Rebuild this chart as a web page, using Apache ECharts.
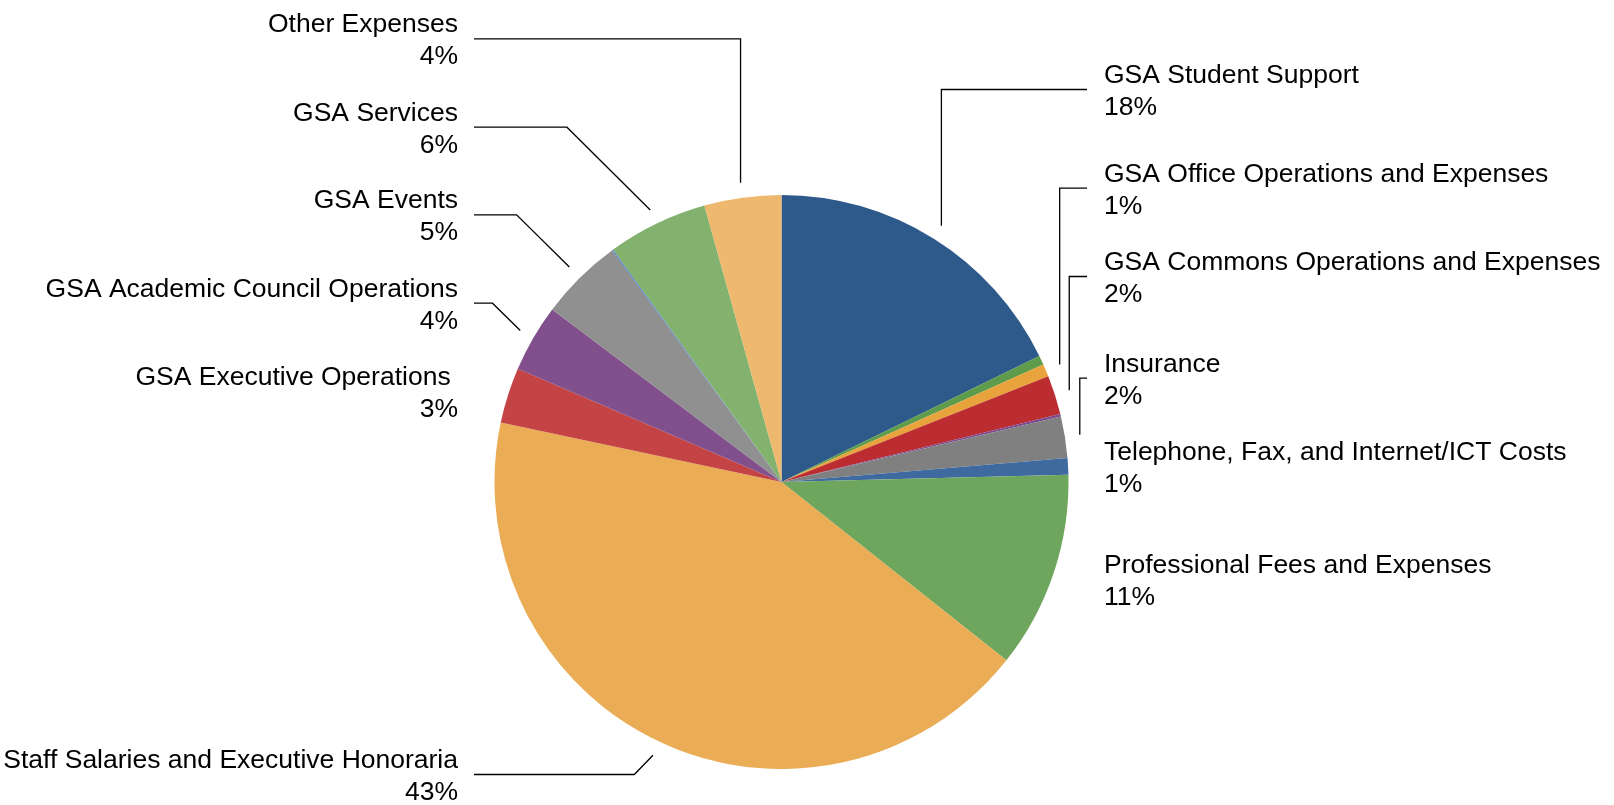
<!DOCTYPE html>
<html><head><meta charset="utf-8">
<script src="https://cdn.jsdelivr.net/npm/echarts@6/dist/echarts.min.js"></script>
<style>html,body{margin:0;padding:0;background:#fff}#c{width:1614px;height:805px}</style>
</head><body><div id="c"></div>
<script>
// ---- data (clockwise from 12 o'clock); '' = unlabeled sliver ----
const categories = [
  'GSA Student Support', '', 'GSA Office Operations and Expenses',
  'GSA Commons Operations and Expenses', '', 'Insurance',
  'Telephone, Fax, and Internet/ICT Costs', 'Professional Fees and Expenses',
  'Staff Salaries and Executive Honoraria', 'GSA Executive Operations ',
  'GSA Academic Council Operations', 'GSA Events', '', 'GSA Services', 'Other Expenses'
];
const values = [17.76, 0.52, 0.71, 2.20, 0.14, 2.34, 0.93, 11.07, 42.65, 3.14, 3.81, 4.67, 0.08, 5.65, 4.33];
const colors = ['#2E5A8B', '#5E9B4A', '#E8A33D', '#BB2D30', '#7B4A8F', '#808080', '#3E6A9F',
  '#6FA65D', '#EAAC55', '#C44446', '#804F8C', '#8F908F', '#5B84C4', '#82B26E', '#EEB96E'];

// ---- label layout config (not data) ----
const labelRowY = [89, null, 187.7, 276, null, 377.7, 466, 579, 774, 391, 302.7, 214.3, null, 126.7, 38.3];
const leaderStyle = ['vert', null, 'vert', 'vert', null, 'vert', 'none', 'none', 'diag', 'none', 'diag', 'diag', null, 'diag', 'vert'];

const CX = 781.5, CY = 482, R = 287, LEAD_R = 302, TEXT_DY = 2.5;
const RIGHT_TEXT_X = 1104, RIGHT_LINE_X = 1087, LEFT_TEXT_X = 458, LEFT_LINE_X = 474;

const total = values.reduce((a, b) => a + b, 0);
const midAngles = [];
let acc = 0;
values.forEach(v => { midAngles.push((acc + v / 2) / total * 2 * Math.PI); acc += v; });

const data = categories.map((name, i) => ({
  name: name,
  value: values[i],
  itemStyle: { color: colors[i] },
  label: { show: name !== '' },
  labelLine: { show: name !== '' && leaderStyle[i] !== 'none' }
}));

const chart = echarts.init(document.getElementById('c'), null, { renderer: 'canvas' });
chart.setOption({
  animation: false,
  backgroundColor: '#fff',
  series: [{
    type: 'pie',
    center: [CX, CY],
    radius: R,
    startAngle: 90,
    clockwise: true,
    avoidLabelOverlap: false,
    emphasis: { disabled: true },
    itemStyle: { borderWidth: 0 },
    label: {
      position: 'outer',
      alignTo: 'none',
      formatter: p => p.name + '\n' + Math.round(p.percent) + '%',
      fontFamily: "'Liberation Sans', Helvetica, Arial, sans-serif",
      fontSize: 26.5,
      lineHeight: 32,
      color: '#000'
    },
    labelLine: { show: true, length: 10, length2: 10, smooth: false, lineStyle: { color: '#000', width: 1.3 } },
    labelLayout: function (params) {
      const i = params.dataIndex;
      const y = labelRowY[i];
      if (y == null) return {};
      const a = midAngles[i];
      const right = Math.sin(a) > 0;
      const sx = CX + LEAD_R * Math.sin(a);
      const sy = CY - LEAD_R * Math.cos(a);
      const endX = right ? RIGHT_LINE_X : LEFT_LINE_X;
      let ex = sx;
      if (leaderStyle[i] === 'diag') ex = sx + (right ? 1 : -1) * Math.abs(sy - y);
      return {
        x: right ? RIGHT_TEXT_X : LEFT_TEXT_X,
        y: y + TEXT_DY,
        align: right ? 'left' : 'right',
        verticalAlign: 'middle',
        labelLinePoints: [[sx, sy], [ex, y + 0.5], [endX, y + 0.5]]
      };
    },
    data: data
  }]
});
</script>
</body></html>
